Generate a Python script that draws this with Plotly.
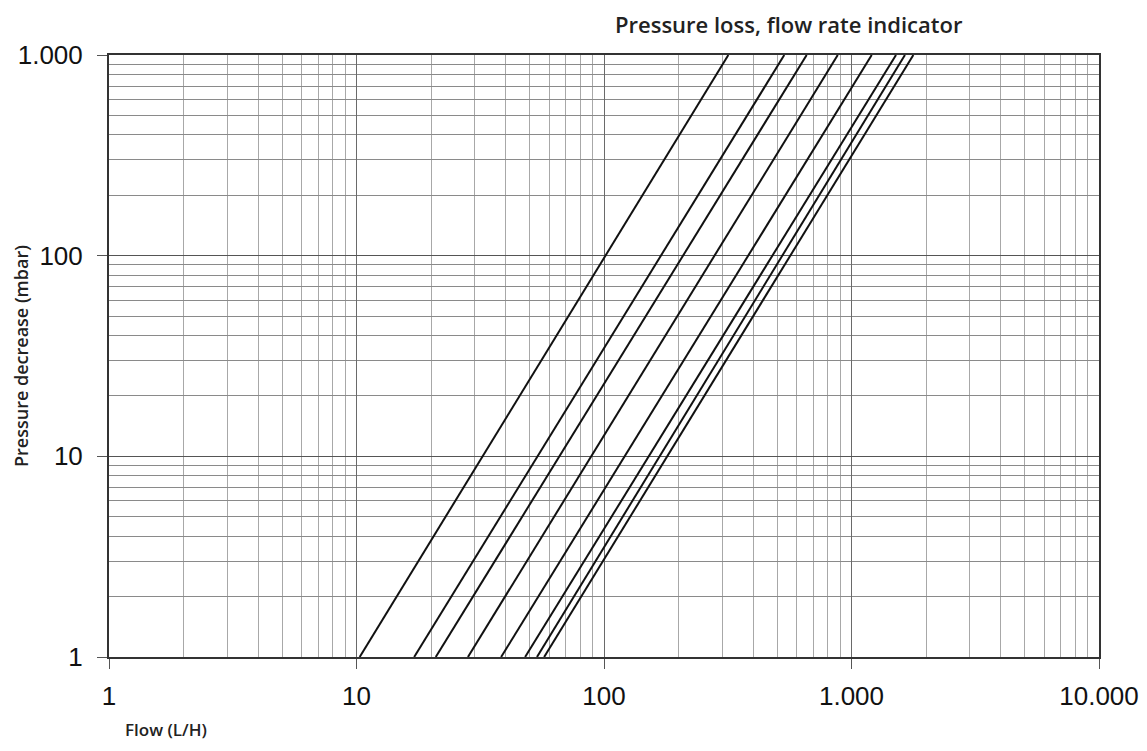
import plotly.graph_objects as go

# Flow (L/H) where each curve crosses 1 mbar and 1000 mbar
flow_at_1mbar = [10.3, 17.1, 20.9, 28.2, 38.4, 48.0, 53.6, 57.3]
flow_at_1000mbar = [318, 535, 659, 880, 1207, 1513, 1644, 1778]
pressure_ends = [1, 1000]

x_tick_vals = [1, 10, 100, 1000, 10000]
x_tick_text = ["1", "10", "100", "1.000", "10.000"]
y_tick_vals = [1, 10, 100, 1000]
y_tick_text = ["1", "10", "100", "1.000"]
minor_x = [m * d for d in [1, 10, 100, 1000] for m in range(2, 10)]
minor_y = [m * d for d in [1, 10, 100] for m in range(2, 10)]

fig = go.Figure()
for q1, q2 in zip(flow_at_1mbar, flow_at_1000mbar):
    fig.add_trace(go.Scatter(
        x=[q1, q2], y=pressure_ends, mode="lines",
        line=dict(color="#111111", width=2), showlegend=False,
        hoverinfo="skip"))

tickfont = dict(family="Liberation Sans, Arial, sans-serif", size=26, color="#111111")

fig.update_xaxes(
    type="log", range=[0, 4], automargin=False,
    tickvals=x_tick_vals, ticktext=x_tick_text, tickfont=tickfont,
    ticks="outside", ticklen=10, tickcolor="#555555", tickwidth=1,
    ticklabelstandoff=5,
    showgrid=True, gridcolor="#6a6a6a", gridwidth=1,
    minor=dict(tickvals=minor_x, showgrid=True, gridcolor="#a8a8a8", gridwidth=1, ticks=""),
    showline=True, linecolor="#333333", linewidth=2, mirror=True,
    zeroline=False,
)
fig.update_yaxes(
    type="log", range=[0, 3], automargin=False,
    tickvals=y_tick_vals, ticktext=y_tick_text, tickfont=tickfont,
    ticks="outside", ticklen=10, tickcolor="#555555", tickwidth=1,
    ticklabelstandoff=9,
    showgrid=True, gridcolor="#555555", gridwidth=1,
    minor=dict(tickvals=minor_y, showgrid=True, gridcolor="#8a8a8a", gridwidth=1, ticks=""),
    showline=True, linecolor="#333333", linewidth=2, mirror=True,
    zeroline=False,
)

fig.update_layout(
    width=1147, height=751,
    margin=dict(l=101, r=56, t=47, b=102),
    paper_bgcolor="white", plot_bgcolor="white",
    annotations=[
        dict(text="Pressure loss, flow rate indicator", xref="paper", yref="paper",
             x=0.865, y=1.0515, xanchor="right", yanchor="middle", showarrow=False,
             font=dict(family="Open Sans, sans-serif", size=22, color="#222222", weight=600)),
        dict(text="Flow (L/H)", xref="paper", yref="paper",
             x=0.0141, y=-0.121, xanchor="left", yanchor="middle", showarrow=False,
             font=dict(family="Open Sans, sans-serif", size=17, color="#222222", weight=600)),
        dict(text="Pressure decrease (mbar)", xref="paper", yref="paper",
             x=-0.0889, y=0.5, xanchor="center", yanchor="middle", showarrow=False,
             textangle=-90,
             font=dict(family="Open Sans, sans-serif", size=18, color="#222222", weight=600)),
    ],
)

fig.write_html("out.html")
